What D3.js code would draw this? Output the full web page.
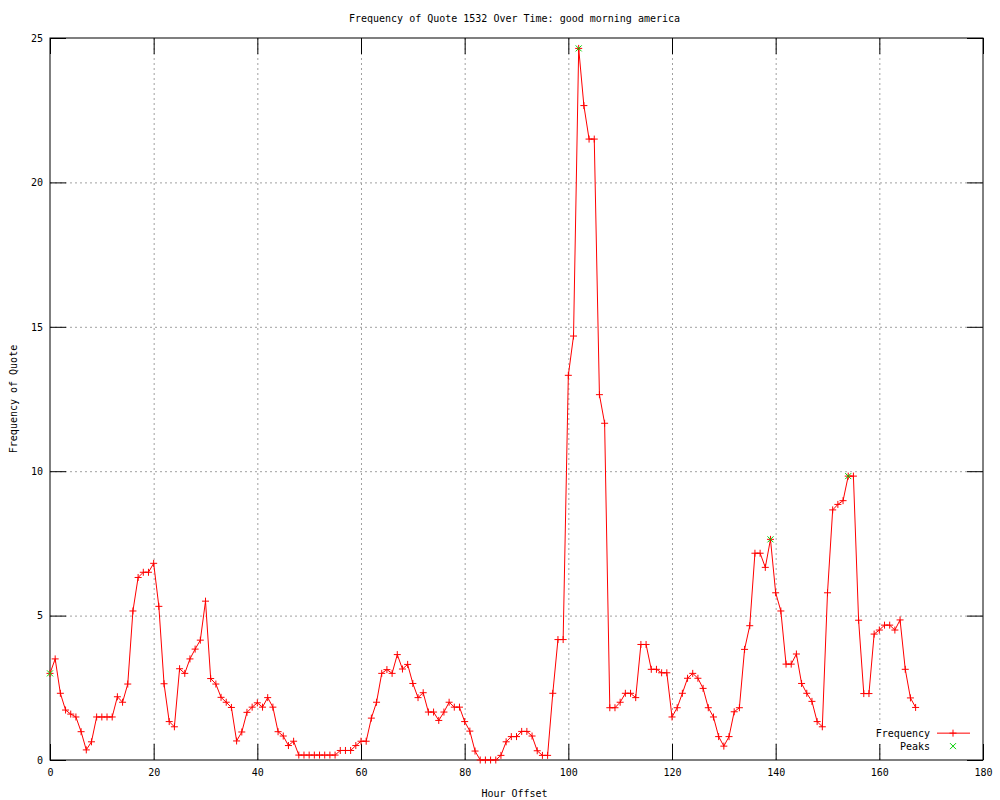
<!DOCTYPE html>
<html lang="en">
<head>
	<meta charset="UTF-8">
	<title>Frequency of Quote 1532</title>
	<script src="https://cdn.jsdelivr.net/npm/d3@7/dist/d3.min.js"></script>
	<style>
		*{ margin: 0px; box-sizing: border-box; }
		html,body{ width:1000px; height:800px; overflow:hidden; background:#fff; }
		text{ font-family: "DejaVu Sans Mono", monospace; font-size: 10px; fill:#000; }
		.grid line{ stroke:#a0a0a0; stroke-dasharray:2,3; }
		.grid path{ stroke:none; }
		.ticks path{ stroke:none; }
		.ticks line{ stroke:#000; }
	</style>
</head>
<body>
	<svg id="svg" width="1000" height="800"></svg>
	<script>
		// hours 0..167
		var freq = [
			3.0, 3.5, 2.31, 1.73, 1.59, 1.49, 0.98, 0.35, 0.63, 1.49,
			1.49, 1.49, 1.49, 2.19, 2.0, 2.63, 5.16, 6.32, 6.5, 6.5,
			6.81, 5.32, 2.64, 1.33, 1.15, 3.16, 3.0, 3.5, 3.84, 4.15,
			5.5, 2.82, 2.63, 2.17, 2.0, 1.82, 0.66, 0.97, 1.65, 1.83,
			1.98, 1.83, 2.16, 1.83, 0.98, 0.83, 0.5, 0.65, 0.17, 0.17,
			0.17, 0.17, 0.17, 0.17, 0.17, 0.17, 0.33, 0.33, 0.33, 0.5,
			0.65, 0.65, 1.45, 2.0, 3.0, 3.13, 3.0, 3.65, 3.15, 3.31,
			2.65, 2.16, 2.33, 1.66, 1.66, 1.37, 1.66, 2.0, 1.83, 1.83,
			1.33, 1.0, 0.31, 0.0, 0.0, 0.0, 0.0, 0.16, 0.63, 0.81,
			0.81, 0.99, 0.99, 0.83, 0.32, 0.16, 0.16, 2.31, 4.17, 4.17,
			13.32, 14.68, 24.64, 22.66, 21.5, 21.5, 12.65, 11.66, 1.81, 1.81,
			2.0, 2.31, 2.31, 2.16, 4.0, 4.0, 3.14, 3.14, 3.02, 3.02,
			1.49, 1.81, 2.31, 2.83, 3.0, 2.83, 2.48, 1.81, 1.49, 0.81,
			0.48, 0.81, 1.67, 1.81, 3.83, 4.65, 7.16, 7.16, 6.67, 7.64,
			5.79, 5.16, 3.32, 3.32, 3.67, 2.65, 2.31, 2.03, 1.33, 1.15,
			5.79, 8.66, 8.85, 8.98, 9.83, 9.83, 4.84, 2.3, 2.3, 4.36,
			4.5, 4.67, 4.67, 4.5, 4.85, 3.14, 2.15, 1.82
		];
		var peakHours = [0, 102, 139, 154];
		var xTicks = [0, 20, 40, 60, 80, 100, 120, 140, 160, 180];
		var yTicks = [0, 5, 10, 15, 20, 25];

		var margin = {left: 50, top: 38, right: 17, bottom: 40},
			W = 1000, H = 800,
			w = W - margin.left - margin.right,
			h = H - margin.top - margin.bottom,
			svg = d3.select("#svg");

		var x = d3.scaleLinear().domain([0, 180]).range([0, w]),
			y = d3.scaleLinear().domain([0, 25]).range([h, 0]);

		var g = svg.append("g").attr("transform", "translate(" + margin.left + "," + margin.top + ")");

		// grid
		g.append("g").attr("class", "grid")
			.attr("transform", "translate(0," + h + ")")
			.call(d3.axisBottom(x).tickValues(xTicks.slice(1, -1)).tickSize(-h).tickFormat(""));
		g.append("g").attr("class", "grid")
			.call(d3.axisLeft(y).tickValues(yTicks.slice(1, -1)).tickSize(-w).tickFormat(""));

		// key background hides grid
		g.append("rect").attr("x", x(157)).attr("y", y(1.25)).attr("width", 110).attr("height", 20).attr("fill", "#fff");

		// ticks, mirrored inside
		g.append("g").attr("class", "ticks")
			.attr("transform", "translate(0," + h + ")")
			.call(d3.axisBottom(x).tickValues(xTicks).tickSizeInner(-16).tickSizeOuter(0).tickPadding(9));
		g.append("g").attr("class", "ticks")
			.call(d3.axisTop(x).tickValues(xTicks).tickSizeInner(-16).tickSizeOuter(0).tickFormat(""));
		g.append("g").attr("class", "ticks")
			.call(d3.axisLeft(y).tickValues(yTicks).tickSizeInner(-16).tickSizeOuter(0).tickPadding(7));
		g.append("g").attr("class", "ticks")
			.attr("transform", "translate(" + w + ",0)")
			.call(d3.axisRight(y).tickValues(yTicks).tickSizeInner(-16).tickSizeOuter(0).tickFormat(""));
		g.selectAll(".ticks text").attr("font-family", null).attr("font-size", null);

		g.append("rect").attr("width", w).attr("height", h)
			.attr("fill", "none").attr("stroke", "#000").attr("stroke-width", 1);

		// frequency line
		var line = d3.line().x(function(d, i) { return x(i); }).y(function(d) { return y(d); });
		g.append("path").datum(freq).attr("d", line)
			.attr("fill", "none").attr("stroke", "#ff0000").attr("stroke-width", 1);

		var plus = function(s) { return "M" + (-s) + ",0H" + s + "M0," + (-s) + "V" + s; };
		var cross = function(s) { return "M" + (-s) + "," + (-s) + "L" + s + "," + s + "M" + (-s) + "," + s + "L" + s + "," + (-s); };

		g.append("g").selectAll("path").data(freq).enter().append("path")
			.attr("transform", function(d, i) { return "translate(" + x(i) + "," + y(d) + ")"; })
			.attr("d", plus(3.5)).attr("stroke", "#ff0000").attr("fill", "none");

		g.append("g").selectAll("path").data(peakHours).enter().append("path")
			.attr("transform", function(d) { return "translate(" + x(d) + "," + y(freq[d]) + ")"; })
			.attr("d", cross(3)).attr("stroke", "#00d000").attr("fill", "none");

		// key
		var kx = w - 30, ky1 = y(0.93), ky2 = y(0.48);
		g.append("text").attr("x", kx - 23).attr("y", ky1).attr("dy", "0.35em").attr("text-anchor", "end").text("Frequency");
		g.append("text").attr("x", kx - 23).attr("y", ky2).attr("dy", "0.35em").attr("text-anchor", "end").text("Peaks");
		g.append("line").attr("x1", kx - 16).attr("x2", kx + 17).attr("y1", ky1).attr("y2", ky1).attr("stroke", "#ff0000");
		g.append("path").attr("transform", "translate(" + kx + "," + ky1 + ")").attr("d", plus(3.5)).attr("stroke", "#ff0000");
		g.append("path").attr("transform", "translate(" + kx + "," + ky2 + ")").attr("d", cross(3)).attr("stroke", "#00d000");

		// titles
		svg.append("text").attr("x", margin.left + w / 2 - 2).attr("y", 22).attr("text-anchor", "middle")
			.text("Frequency of Quote 1532 Over Time: good morning america");
		svg.append("text").attr("x", margin.left + w / 2 - 2).attr("y", 797).attr("text-anchor", "middle")
			.text("Hour Offset");
		svg.append("text").attr("transform", "translate(17," + (margin.top + h / 2) + ") rotate(-90)")
			.attr("text-anchor", "middle").text("Frequency of Quote");
	</script>
</body>
</html>
